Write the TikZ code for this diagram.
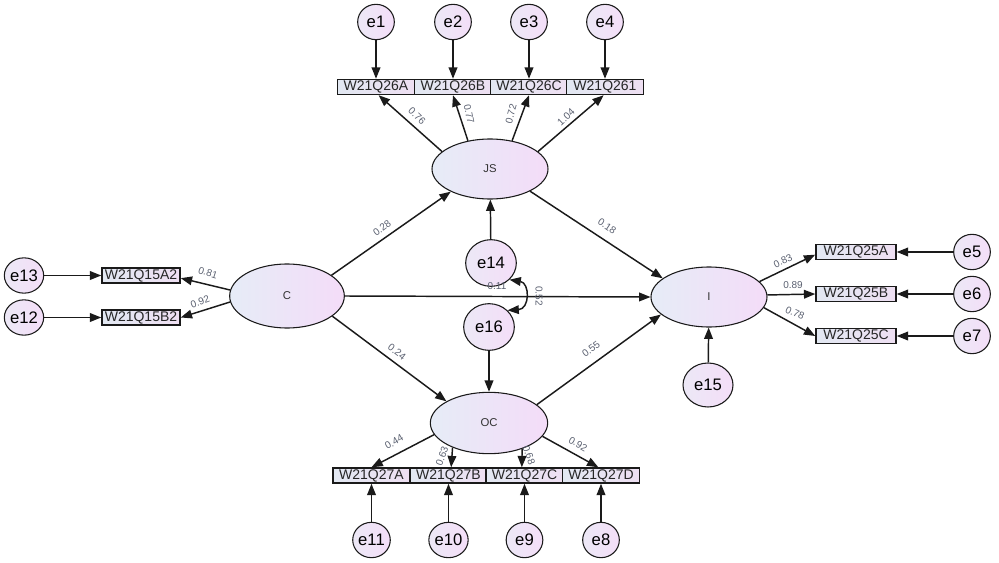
\documentclass[tikz,border=0pt]{standalone}
\usepackage{fontspec}
\setmainfont{Liberation Sans}
\usetikzlibrary{arrows.meta,shapes.geometric}
\definecolor{latL}{HTML}{E6ECF7}
\definecolor{latR}{HTML}{F4DCF8}
\definecolor{errL}{HTML}{ECE8F6}
\definecolor{errR}{HTML}{F4DEF8}
\definecolor{obsL}{HTML}{E2E8F2}
\definecolor{obsR}{HTML}{EEDFF2}
\definecolor{lblC}{HTML}{5A6070}
\definecolor{ln}{HTML}{1A1A1A}
\begin{document}
\begin{tikzpicture}[x=0.75pt,y=-0.75pt,
  lat/.style={ellipse, draw=ln, line width=0.8pt, left color=latL, right color=latR, minimum width=87pt, minimum height=45pt, inner sep=0pt, font=\fontsize{8.5}{10}\selectfont, text=black!80},
  err/.style={ellipse, draw=ln, line width=0.8pt, left color=errL, right color=errR, minimum width=27.5pt, minimum height=26.5pt, inner sep=0pt, font=\fontsize{12.5}{14}\selectfont},
  bigerr/.style={err, minimum width=38pt, minimum height=35pt},
  obs/.style={rectangle, draw=ln, line width=1.1pt, left color=obsL, right color=obsR, minimum width=57.5pt, minimum height=11.25pt, inner sep=0pt, font=\fontsize{10.5}{11}\selectfont, text=black!85},
  tip/.tip={Triangle[length=8.5pt,width=6.5pt]},
  arr/.style={-tip, line width=1.1pt, draw=ln},
  lbl/.style={font=\fontsize{7.5}{8}\selectfont, text=lblC, inner sep=0pt},
]
\useasboundingbox (0,0) rectangle (999,563);
% latent variables
\node[lat] (JS) at (490,169) {JS};
\node[lat, minimum width=86pt, minimum height=48pt] (C) at (287,296) {C};
\node[lat] (I) at (709,297) {I};
\node[lat, minimum width=88pt, minimum height=46pt] (OC) at (489,423) {OC};
% top indicators
\node[obs] (t1) at (376,87) {W21Q26A};
\node[obs] (t2) at (453,87) {W21Q26B};
\node[obs] (t3) at (529,87) {W21Q26C};
\node[obs] (t4) at (605,87) {W21Q261};
\node[err] (e1) at (376,22) {e1};
\node[err] (e2) at (453,22) {e2};
\node[err] (e3) at (529,22) {e3};
\node[err] (e4) at (605,22) {e4};
% bottom indicators
\node[obs] (b1) at (371.5,475.5) {W21Q27A};
\node[obs] (b2) at (448.5,475.5) {W21Q27B};
\node[obs] (b3) at (524.5,475.5) {W21Q27C};
\node[obs] (b4) at (601,475.5) {W21Q27D};
\node[err] (e11) at (371.5,540) {e11};
\node[err] (e10) at (448.5,540) {e10};
\node[err] (e9) at (524.5,540) {e9};
\node[err] (e8) at (601,540) {e8};
% left indicators
\node[obs, minimum width=58.5pt] (l1) at (141,275.5) {W21Q15A2};
\node[obs, minimum width=58.5pt] (l2) at (141,317.5) {W21Q15B2};
\node[err] (e13) at (24,275.5) {e13};
\node[err] (e12) at (24,317.5) {e12};
% right indicators
\node[obs, minimum width=60pt] (r1) at (856,252) {W21Q25A};
\node[obs, minimum width=60pt] (r2) at (856,294) {W21Q25B};
\node[obs, minimum width=60pt] (r3) at (856,336) {W21Q25C};
\node[err] (e5) at (972,252) {e5};
\node[err] (e6) at (972,294) {e6};
\node[err] (e7) at (972,336) {e7};
% structural errors
\node[bigerr] (e14) at (491,263) {e14};
\node[bigerr] (e16) at (489,327) {e16};
\node[bigerr, minimum width=37.5pt, minimum height=33pt] (e15) at (708,385) {e15};
% error arrows
\foreach \e/\o in {e1/t1,e2/t2,e3/t3,e4/t4,e11/b1,e10/b2,e9/b3,e8/b4,e13/l1,e12/l2,e5/r1,e6/r2,e7/r3}
  \draw[arr] (\e) -- (\o);
\draw[arr] (e14) -- (JS);
\draw[arr] (e16) -- (OC);
\draw[arr] (e15) -- (I);
% loadings
\draw[arr] (JS.160) -- ([xshift=2pt]t1.south);
\draw[arr] (JS.128) -- (t2.south);
\draw[arr] (JS.52) -- (t3.south);
\draw[arr] (JS.20) -- ([xshift=-1pt]t4.south);
\draw[arr] (OC.192) -- (b1.north);
\draw[arr] (OC.214) -- ([xshift=2pt]b2.north);
\draw[arr] (OC.322) -- ([xshift=-2pt]b3.north);
\draw[arr] (OC.346) -- ([xshift=-2pt]b4.north);
\draw[arr] (C.174) -- ([yshift=-2pt]l1.east);
\draw[arr] (C.186) -- (l2.east);
\draw[arr] (I.17) -- ([yshift=-2pt]r1.west);
\draw[arr] (I.2) -- (r2.west);
\draw[arr] (I.-11) -- (r3.west);
% structural paths
\draw[arr] (C.25) -- (JS.210);
\draw[arr] (C.0) -- (I.180);
\draw[arr] (C.-24) -- (OC.153);
\draw[arr] (JS.-29) -- (I.158);
\draw[arr] (OC.21) -- (I.200);
% covariance
\draw[tip-tip, line width=1.1pt, draw=ln]
  (e14.-42) .. controls (530,283) and (530,309) .. (e16.42);
% labels
\node[lbl, rotate=-44] at (417,116) {0.76};
\node[lbl, rotate=-78] at (469,114) {0.77};
\node[lbl, rotate=75] at (511,114) {0.72};
\node[lbl, rotate=43] at (566,117) {1.04};
\node[lbl, rotate=37] at (382,228) {0.28};
\node[lbl, rotate=-34] at (607,226) {0.18};
\node[lbl, rotate=-38] at (397,352) {0.24};
\node[lbl, rotate=37] at (591,349) {0.55};
\node[lbl] at (497,286) {0.11};
\node[lbl, rotate=-90] at (539,296) {0.52};
\node[lbl, rotate=-18] at (208,273) {0.81};
\node[lbl, rotate=20] at (200,302) {0.92};
\node[lbl, rotate=25] at (783,261) {0.83};
\node[lbl] at (793,285) {0.89};
\node[lbl, rotate=-25] at (795,313) {0.78};
\node[lbl, rotate=30] at (394,442) {0.44};
\node[lbl, rotate=70] at (442,456) {0.63};
\node[lbl, rotate=-70] at (529,455) {0.68};
\node[lbl, rotate=-30] at (578,444) {0.92};
\end{tikzpicture}
\end{document}
